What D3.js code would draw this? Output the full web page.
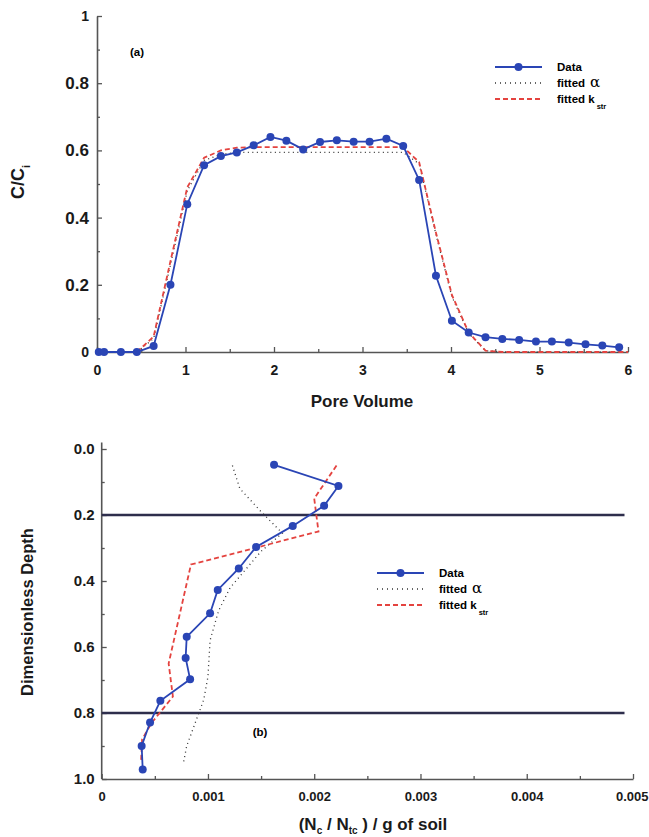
<!DOCTYPE html>
<html><head><meta charset="utf-8">
<script src="https://cdn.jsdelivr.net/npm/d3@7"></script>
<style>
html,body{margin:0;padding:0;background:#fff;}
text{font-family:"Liberation Sans",Arial,Helvetica,sans-serif;}
</style></head>
<body>
<svg id="chart" width="649" height="837"></svg>
<script>
// ---------- Panel (a) data ----------
const poreVolume = [0.02,0.08,0.27,0.45,0.64,0.83,1.02,1.21,1.40,1.58,1.77,1.96,2.14,2.33,2.52,2.71,2.90,3.08,3.27,3.46,3.64,3.83,4.01,4.20,4.39,4.58,4.77,4.96,5.14,5.33,5.52,5.71,5.90];
const ccData = [0,0,0,0,0.018,0.20,0.44,0.556,0.583,0.594,0.615,0.64,0.629,0.603,0.625,0.63,0.626,0.626,0.635,0.613,0.512,0.227,0.093,0.058,0.044,0.039,0.036,0.031,0.031,0.028,0.023,0.019,0.014];
const fitPV = [0,0.45,0.64,0.83,1.02,1.21,1.40,1.58,1.77,3.46,3.64,3.83,4.01,4.20,4.39,4.58,6.0];
const ccKstr = [0,0,0.046,0.27,0.49,0.578,0.600,0.608,0.61,0.61,0.565,0.355,0.17,0.058,0.004,0,0];
const ccAlpha = [0,0,0.04,0.26,0.48,0.57,0.588,0.594,0.594,0.594,0.56,0.35,0.165,0.055,0.004,0,0];
const xTicksA = [0,1,2,3,4,5,6];
const yTicksA = [0,0.2,0.4,0.6,0.8,1];

// ---------- Panel (b) data ----------
const depthData = [0.048,0.112,0.172,0.233,0.297,0.362,0.427,0.498,0.569,0.633,0.698,0.763,0.829,0.900,0.971];
const concData = [0.001622,0.002228,0.002093,0.001798,0.001453,0.00129,0.001092,0.00102,0.00080,0.00079,0.000832,0.000552,0.000455,0.000376,0.000386];
const kstrDepth = [0.05,0.15,0.25,0.35,0.65,0.75,0.83,0.88,0.95];
const kstrConc = [0.00221,0.00200,0.00204,0.00084,0.00063,0.00067,0.00047,0.00038,0.00037];
const alphaDepth = [0.05,0.12,0.19,0.255,0.31,0.42,0.49,0.58,0.69,0.76,0.83,0.90,0.95];
const alphaConc = [0.00123,0.00130,0.00150,0.00170,0.00150,0.00121,0.00110,0.00102,0.00100,0.00096,0.00088,0.00080,0.00077];
const boundaryDepths = [0.2,0.8];
const xTicksB = [0,0.001,0.002,0.003,0.004,0.005];
const yTicksB = [0,0.2,0.4,0.6,0.8,1.0];

const BLUE = "#2a45b5", RED = "#e4433f", DOT = "#333", AXIS = "#555", NAVY = "#2e2e4c";
const svg = d3.select("#chart");

function styleAxis(g){
  g.select(".domain").attr("stroke",AXIS).attr("stroke-width",1.6);
  g.selectAll(".tick line").attr("stroke",AXIS).attr("stroke-width",1.3);
  g.selectAll("text").attr("fill","#1a1a1a").attr("font-weight","bold");
}

function legend(x0, y0){
  const g = svg.append("g");
  g.append("line").attr("x1",x0).attr("x2",x0+47).attr("y1",y0).attr("y2",y0).attr("stroke",BLUE).attr("stroke-width",1.8);
  g.append("circle").attr("cx",x0+23.5).attr("cy",y0).attr("r",4).attr("fill",BLUE);
  g.append("line").attr("x1",x0).attr("x2",x0+47).attr("y1",y0+16).attr("y2",y0+16).attr("stroke",DOT).attr("stroke-width",1.3).attr("stroke-dasharray","1,4");
  g.append("line").attr("x1",x0).attr("x2",x0+47).attr("y1",y0+32).attr("y2",y0+32).attr("stroke",RED).attr("stroke-width",1.8).attr("stroke-dasharray","5,3");
  const tx = x0+62;
  g.append("text").attr("x",tx).attr("y",y0).attr("dy","0.35em").attr("font-size",11.5).attr("font-weight","bold").text("Data");
  const t2 = g.append("text").attr("x",tx).attr("y",y0+16).attr("dy","0.35em").attr("font-size",11.5).attr("font-weight","bold");
  t2.append("tspan").text("fitted");
  t2.append("tspan").attr("dx",5).attr("font-weight","normal").attr("font-size",15).attr("font-family","'DejaVu Serif',serif").text("α");
  const t3 = g.append("text").attr("x",tx).attr("y",y0+32).attr("dy","0.35em").attr("font-size",11.5).attr("font-weight","bold");
  t3.append("tspan").text("fitted k");
  t3.append("tspan").attr("dx",2).attr("dy",6).attr("font-size",7.5).text("str");
}

// ================= Panel (a) =================
const xA = d3.scaleLinear().domain([0,6]).range([97,628]);
const yA = d3.scaleLinear().domain([0,1]).range([352,16]);

const gxA = svg.append("g").attr("transform",`translate(0,${yA(0)})`)
  .call(d3.axisBottom(xA).tickValues(xTicksA).tickSizeInner(-5).tickSizeOuter(0).tickPadding(13).tickFormat(d3.format("d")));
styleAxis(gxA); gxA.selectAll("text").attr("font-size",14);
const gxAm = svg.append("g").attr("transform",`translate(0,${yA(0)})`)
  .call(d3.axisBottom(xA).tickValues([0.5,1.5,2.5,3.5,4.5,5.5]).tickSizeInner(-3).tickSizeOuter(0).tickFormat(""));
styleAxis(gxAm); gxAm.select(".domain").remove();

const gyA = svg.append("g").attr("transform",`translate(${xA(0)},0)`)
  .call(d3.axisLeft(yA).tickValues(yTicksA).tickSizeInner(-5).tickSizeOuter(0).tickPadding(8).tickFormat(d3.format("")));
styleAxis(gyA);
gyA.selectAll("text").attr("font-size",d => (d===0||d===1)?14:17);
const gyAm = svg.append("g").attr("transform",`translate(${xA(0)},0)`)
  .call(d3.axisLeft(yA).tickValues([0.1,0.3,0.5,0.7,0.9]).tickSizeInner(-3).tickSizeOuter(0).tickFormat(""));
styleAxis(gyAm); gyAm.select(".domain").remove();

const lineA = d3.line().x(d=>xA(d[0])).y(d=>yA(d[1]));
svg.append("path").datum(d3.zip(fitPV,ccAlpha)).attr("d",lineA).attr("fill","none").attr("stroke",DOT).attr("stroke-width",1.3).attr("stroke-dasharray","1,3.5");
svg.append("path").datum(d3.zip(fitPV,ccKstr)).attr("d",lineA).attr("fill","none").attr("stroke",RED).attr("stroke-width",1.8).attr("stroke-dasharray","5,3");
svg.append("path").datum(d3.zip(poreVolume,ccData)).attr("d",lineA).attr("fill","none").attr("stroke",BLUE).attr("stroke-width",1.8);
svg.append("g").selectAll("circle").data(d3.zip(poreVolume,ccData)).join("circle")
  .attr("cx",d=>xA(d[0])).attr("cy",d=>yA(d[1])).attr("r",4).attr("fill",BLUE);

svg.append("text").attr("x",137).attr("y",52).attr("dy","0.35em").attr("text-anchor","middle").attr("font-size",11.5).attr("font-weight","bold").text("(a)");
svg.append("text").attr("x",362).attr("y",401).attr("dy","0.35em").attr("text-anchor","middle").attr("font-size",17).attr("font-weight","bold").attr("fill","#1a1a1a").text("Pore Volume");
const ylA = svg.append("text").attr("transform","translate(24,182) rotate(-90)").attr("text-anchor","middle").attr("font-size",18).attr("font-weight","bold").attr("fill","#1a1a1a");
ylA.append("tspan").text("C/C");
ylA.append("tspan").attr("dy",6).attr("font-size",11).text("i");
legend(495, 67);

// ================= Panel (b) =================
const xB = d3.scaleLinear().domain([0,0.005]).range([101.7,633]);
const yB = d3.scaleLinear().domain([0,1]).range([449,779]);

const gxB = svg.append("g").attr("transform",`translate(0,${yB(1)})`)
  .call(d3.axisBottom(xB).tickValues(xTicksB).tickSizeInner(-5).tickSizeOuter(0).tickPadding(13).tickFormat(d=> d===0?"0":d3.format(".3f")(d)));
styleAxis(gxB); gxB.selectAll("text").attr("font-size",13);
gxB.selectAll(".tick").filter(d=>d===0.005).select("text").attr("text-anchor","end").attr("x",15);
const gxBm = svg.append("g").attr("transform",`translate(0,${yB(1)})`)
  .call(d3.axisBottom(xB).tickValues([0.0005,0.0015,0.0025,0.0035,0.0045]).tickSizeInner(-3).tickSizeOuter(0).tickFormat(""));
styleAxis(gxBm); gxBm.select(".domain").remove();

const gyB = svg.append("g").attr("transform",`translate(${xB(0)},0)`)
  .call(d3.axisLeft(yB).tickValues(yTicksB).tickSizeInner(-5).tickSizeOuter(0).tickPadding(7).tickFormat(d3.format(".1f")));
styleAxis(gyB); gyB.selectAll("text").attr("font-size",15);
gyB.select(".domain").attr("d",`M0,${yB(-0.02)}V${yB(1)}`);
const gyBm = svg.append("g").attr("transform",`translate(${xB(0)},0)`)
  .call(d3.axisLeft(yB).tickValues([0.1,0.3,0.5,0.7,0.9]).tickSizeInner(-3).tickSizeOuter(0).tickFormat(""));
styleAxis(gyBm); gyBm.select(".domain").remove();

svg.append("g").selectAll("line").data(boundaryDepths).join("line")
  .attr("x1",xB(0)).attr("x2",xB(0.00492)).attr("y1",d=>yB(d)).attr("y2",d=>yB(d))
  .attr("stroke",NAVY).attr("stroke-width",2.6);

const lineB = d3.line().x(d=>xB(d[0])).y(d=>yB(d[1]));
svg.append("path").datum(d3.zip(alphaConc,alphaDepth)).attr("d",lineB).attr("fill","none").attr("stroke",DOT).attr("stroke-width",1.3).attr("stroke-dasharray","1,3.5");
svg.append("path").datum(d3.zip(kstrConc,kstrDepth)).attr("d",lineB).attr("fill","none").attr("stroke",RED).attr("stroke-width",1.8).attr("stroke-dasharray","5,3");
svg.append("path").datum(d3.zip(concData,depthData)).attr("d",lineB).attr("fill","none").attr("stroke",BLUE).attr("stroke-width",1.8);
svg.append("g").selectAll("circle").data(d3.zip(concData,depthData)).join("circle")
  .attr("cx",d=>xB(d[0])).attr("cy",d=>yB(d[1])).attr("r",4).attr("fill",BLUE);

svg.append("text").attr("x",260).attr("y",732).attr("dy","0.35em").attr("text-anchor","middle").attr("font-size",11.5).attr("font-weight","bold").text("(b)");
svg.append("text").attr("transform","translate(27,612) rotate(-90)").attr("dy","0.35em").attr("text-anchor","middle").attr("font-size",16.5).attr("font-weight","bold").attr("fill","#1a1a1a").text("Dimensionless Depth");
const xlB = svg.append("text").attr("x",373).attr("y",824).attr("dy","0.35em").attr("text-anchor","middle").attr("font-size",17).attr("font-weight","bold").attr("fill","#1a1a1a");
xlB.append("tspan").text("(N");
xlB.append("tspan").attr("dy",4).attr("font-size",10).text("c");
xlB.append("tspan").attr("dy",-4).text(" / N");
xlB.append("tspan").attr("dy",4).attr("font-size",10).text("tc");
xlB.append("tspan").attr("dy",-4).text(" ) / g of soil");
legend(377, 573);
</script>
</body></html>
